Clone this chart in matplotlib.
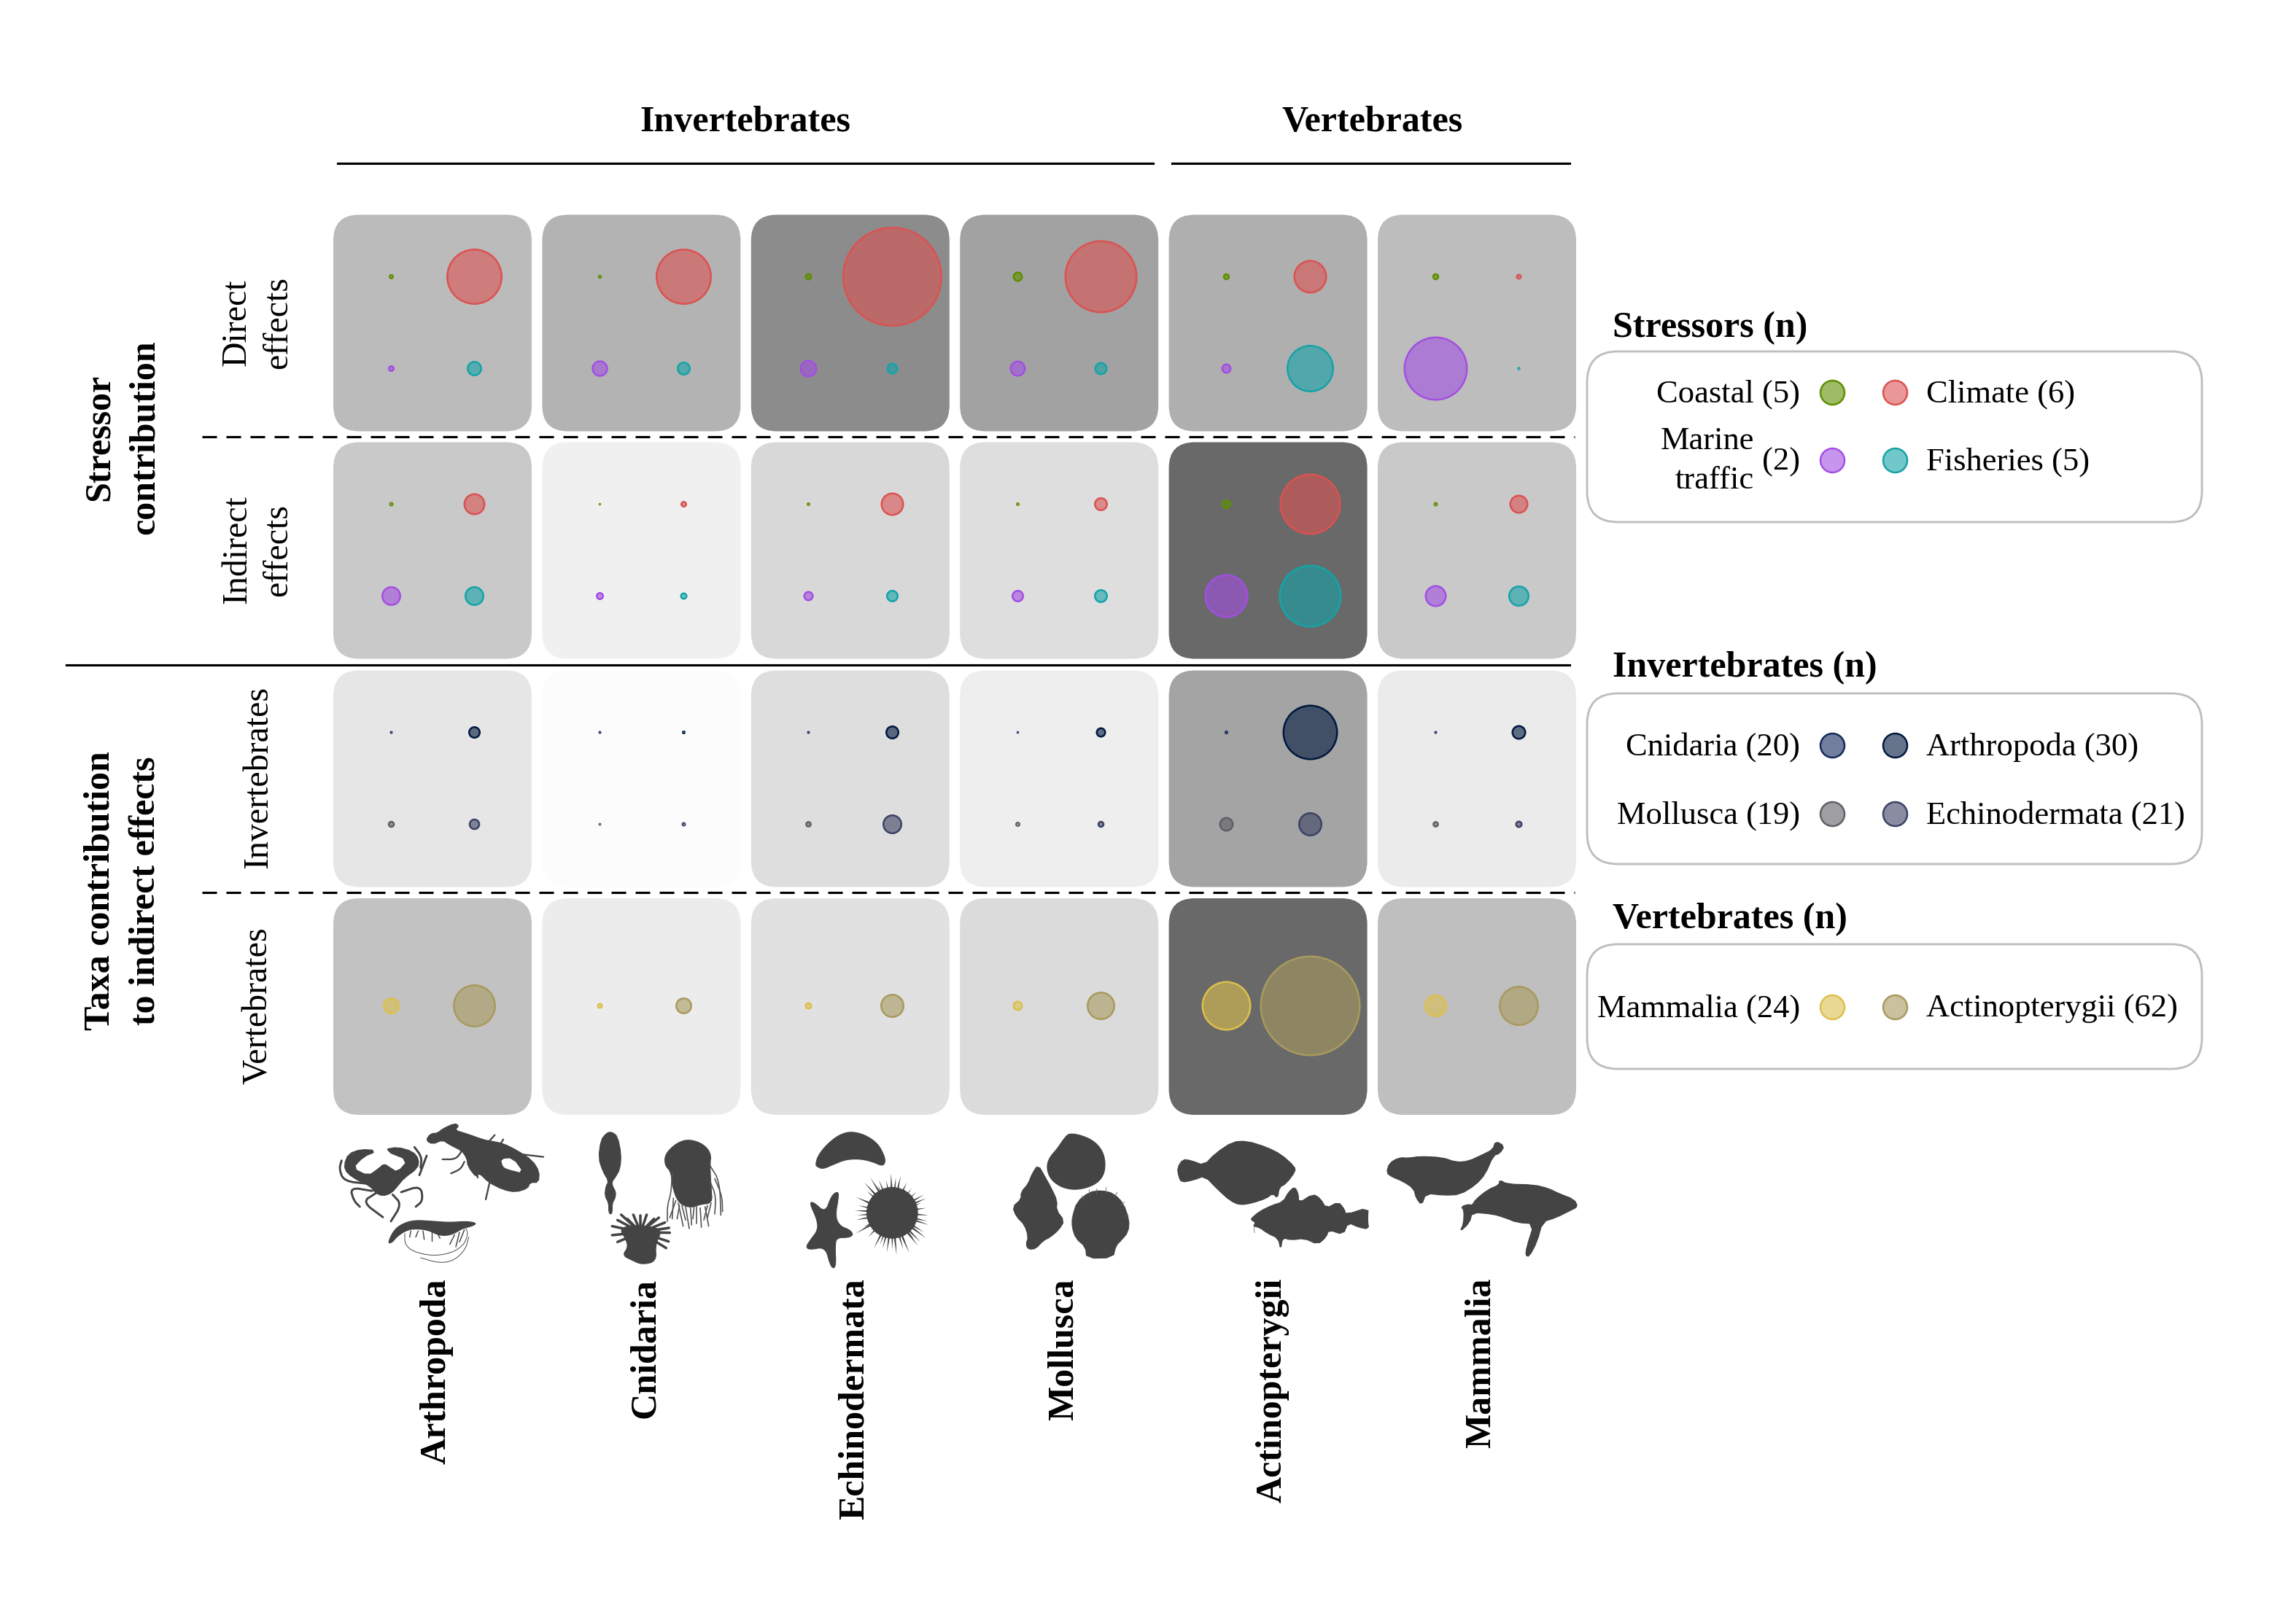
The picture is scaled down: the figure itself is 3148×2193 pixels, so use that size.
import numpy as np
import matplotlib
matplotlib.use('Agg')
import matplotlib.pyplot as plt
from matplotlib.patches import FancyBboxPatch, Polygon, Circle

plt.rcParams['font.family'] = ['Liberation Serif', 'DejaVu Serif']

W, H, DPI = 3148, 2193, 300

taxa = ['Arthropoda', 'Cnidaria', 'Echinodermata', 'Mollusca', 'Actinopterygii', 'Mammalia']

# tile grey levels, one list per row
shade_direct = [187, 179, 140, 162, 175, 189]
shade_indirect = [201, 240, 216, 222, 105, 201]
shade_invert = [230, 252, 222, 238, 164, 235]
shade_vert = [194, 236, 225, 219, 105, 191]

# bubble diameters (px)
direct_coastal = [7, 5.5, 10, 14, 9.5, 9.5]
direct_climate = [77, 77, 137, 100, 46, 8]
direct_marine = [9, 22.5, 24, 22, 14, 88]
direct_fisheries = [21, 19, 16, 18, 65, 4.5]

indirect_coastal = [6, 3.5, 5, 5, 13, 6]
indirect_climate = [30, 9, 32, 19, 84, 26]
indirect_marine = [27, 11, 14, 17, 60, 30]
indirect_fisheries = [27, 10, 17, 19, 86, 29]

invert_cnidaria = [4, 4, 4, 3.5, 5, 4]
invert_arthropoda = [17, 5, 19, 14, 76, 20]
invert_mollusca = [9.5, 4, 8.7, 7, 20, 8.7]
invert_echinodermata = [15.6, 6, 27, 9.5, 33, 10]

vert_mammalia = [23, 8, 10, 14, 68, 31]
vert_actinopterygii = [59, 23, 33, 39, 138, 55]

# colours
col_coastal = '#5E8F00'
col_climate = '#DB5252'
col_marine = '#A24FE2'
col_fisheries = '#15A3A8'
col_cnidaria = '#14295C'
col_arthropoda = '#00183E'
col_mollusca = '#5F5F66'
col_echinodermata = '#3C4265'
col_mammalia = '#DCC04D'
col_actinopterygii = '#A89A5E'

# legends
legend_stressors = [('Coastal (5)', col_coastal), ('Climate (6)', col_climate),
                    ('(2)', col_marine), ('Fisheries (5)', col_fisheries)]
legend_invert = [('Cnidaria (20)', col_cnidaria), ('Arthropoda (30)', col_arthropoda),
                 ('Mollusca (19)', col_mollusca), ('Echinodermata (21)', col_echinodermata)]
legend_vert = [('Mammalia (24)', col_mammalia), ('Actinopterygii (62)', col_actinopterygii)]

fig = plt.figure(figsize=(W / DPI, H / DPI), dpi=DPI)

PANEL_W, PANEL_H = 272, 297
panel_x = [457 + 286.4 * i for i in range(6)]
panel_y = [294.5, 606.5, 919.5, 1232]
EDGE = 0.6
edge_px = EDGE * DPI / 72


def bubble(ax, x, y, d, color):
    # tiny bubbles in the source are only a faint hairline ring
    lw = EDGE * min(1, d / 9)
    size = (max(d - lw * DPI / 72, 0.8) * 72 / DPI) ** 2
    ax.scatter([x], [y], s=size, facecolor=matplotlib.colors.to_rgba(color, 0.6),
               edgecolor=color, linewidth=lw, zorder=3)


rows = [
    (shade_direct, [(0.289, 0.714, direct_coastal, col_coastal), (0.71, 0.714, direct_climate, col_climate),
                    (0.289, 0.292, direct_marine, col_marine), (0.71, 0.292, direct_fisheries, col_fisheries)]),
    (shade_indirect, [(0.289, 0.714, indirect_coastal, col_coastal), (0.71, 0.714, indirect_climate, col_climate),
                      (0.289, 0.292, indirect_marine, col_marine), (0.71, 0.292, indirect_fisheries, col_fisheries)]),
    (shade_invert, [(0.289, 0.714, invert_cnidaria, col_cnidaria), (0.71, 0.714, invert_arthropoda, col_arthropoda),
                    (0.289, 0.292, invert_mollusca, col_mollusca), (0.71, 0.292, invert_echinodermata, col_echinodermata)]),
    (shade_vert, [(0.289, 0.505, vert_mammalia, col_mammalia), (0.71, 0.505, vert_actinopterygii, col_actinopterygii)]),
]

for r, (shades, series) in enumerate(rows):
    for c in range(6):
        ax = fig.add_axes([panel_x[c] / W, 1 - (panel_y[r] + PANEL_H) / H, PANEL_W / W, PANEL_H / H])
        ax.set_xlim(0, 1)
        ax.set_ylim(0, 1)
        ax.axis('off')
        g = shades[c] / 255
        ax.add_patch(FancyBboxPatch((0, 0), 1, 1, boxstyle='round,pad=0,rounding_size=0.13',
                                    mutation_aspect=0.916, facecolor=(g, g, g), edgecolor='none', clip_on=False))
        for x, y, vals, color in series:
            bubble(ax, x, y, vals[c], color)

# overlay in image pixels for rules, labels, legends and silhouettes
ov = fig.add_axes([0, 0, 1, 1], zorder=5)
ov.set_xlim(0, W)
ov.set_ylim(H, 0)
ov.axis('off')

LW = 0.75
ov.plot([463, 1581], [224, 224], color='black', lw=LW)
ov.plot([1607, 2152], [224, 224], color='black', lw=LW)
ov.plot([91, 2152], [912, 912], color='black', lw=LW)
dash = (0, (20 * 0.24 / LW, 13 * 0.24 / LW))
ov.plot([277, 2159], [599, 599], color='black', lw=LW, ls=dash)
ov.plot([277, 2159], [1224, 1224], color='black', lw=LW, ls=dash)


def txt(x, y, s, size=10.7, bold=False, rot=0, ha='center', va='center', ls=1.2):
    ov.text(x, y, s, fontsize=size, fontweight='bold' if bold else 'normal', rotation=rot,
            ha=ha, va=va, linespacing=ls, rotation_mode='anchor' if rot else 'default')


txt(1022, 168, 'Invertebrates', 12, True)
txt(1882, 168, 'Vertebrates', 12, True)

txt(137, 600, 'Stressor', 12, True, 90)
txt(199, 600, 'contribution', 12, True, 90)
txt(137, 1222, 'Taxa contribution', 12, True, 90)
txt(199, 1222, 'to indirect effects', 12, True, 90)
txt(325, 442, 'Direct', 11.5, False, 90)
txt(381, 442, 'effects', 11.5, False, 90)
txt(325, 754, 'Indirect', 11.5, False, 90)
txt(381, 754, 'effects', 11.5, False, 90)
txt(354, 1066, 'Invertebrates', 11.5, False, 90)
txt(354, 1379, 'Vertebrates', 11.5, False, 90)

for c, name in enumerate(taxa):
    txt(panel_x[c] + PANEL_W / 2 + 6, 1753, name, 12, True, 90, ha='right')

# legends
boxes = [(482, 716, 'Stressors (n)', 450, legend_stressors, [537.5, 631]),
         (951, 1185, 'Invertebrates (n)', 916, legend_invert, [1022, 1116]),
         (1295, 1466, 'Vertebrates (n)', 1261.5, legend_vert, [1381])]
for top, bottom, title, ty, items, ys in boxes:
    ov.add_patch(FancyBboxPatch((2176, top), 843, bottom - top, boxstyle='round,pad=0,rounding_size=42',
                                facecolor='white', edgecolor='#BEBEBE', lw=0.7))
    txt(2211, ty, title, 12, True, ha='left')
    for i, (label, color) in enumerate(items):
        y = ys[i // 2]
        left = i % 2 == 0
        ov.scatter([2512 if left else 2598], [y], s=(33 * 72 / DPI) ** 2,
                   facecolor=matplotlib.colors.to_rgba(color, 0.6), edgecolor=color, linewidth=EDGE, zorder=3)
        txt(2468 if left else 2641, y + 3, label, ha='right' if left else 'left')
txt(2405, 632, 'Marine\ntraffic', ha='right', ls=1.42)

# silhouettes, traced at 3x from crops that start at y=1540
SIL = '#444444'


def chaikin(xy, closed, n=2):
    for _ in range(n):
        nxt = np.roll(xy, -1, axis=0) if closed else xy[1:]
        cur = xy if closed else xy[:-1]
        q = cur * 0.75 + nxt * 0.25
        r = cur * 0.25 + nxt * 0.75
        mid = np.empty((len(cur) * 2, 2))
        mid[0::2] = q
        mid[1::2] = r
        xy = mid if closed else np.vstack([xy[:1], mid, xy[-1:]])
    return xy


def shape(x0, pts, color=SIL, smooth=2, edge=0.3):
    xy = chaikin(np.array(pts, dtype=float) / 3 + [x0, 1540], True, smooth)
    ov.add_patch(Polygon(xy, closed=True, facecolor=color, edgecolor=color, lw=edge, joinstyle='round'))


def stroke(x0, pts, lw=0.65, color=SIL):
    xy = chaikin(np.array(pts, dtype=float) / 3 + [x0, 1540], False)
    ov.plot(xy[:, 0], xy[:, 1], color=color, lw=lw, solid_capstyle='round', solid_joinstyle='round')


def spike(x0, base, tip, width=3.0):
    b, t = np.array(base, float) / 3 + [x0, 1540], np.array(tip, float) / 3 + [x0, 1540]
    n = np.array([-(t - b)[1], (t - b)[0]])
    n = n / np.hypot(*n) * width / 2
    ov.add_patch(Polygon([b + n, t, b - n], closed=True, facecolor=SIL, edgecolor='none'))


# crab
X = 460
shape(X, [(38, 175), (55, 130), (105, 112), (165, 116), (115, 135), (65, 187), (135, 222), (180, 190), (200, 172),
          (220, 185), (255, 208), (305, 152), (205, 112), (255, 103), (315, 120), (340, 150), (335, 185), (280, 225),
          (255, 255), (230, 285), (195, 298), (165, 285), (145, 258), (95, 235), (50, 205)], smooth=1, edge=0.8)
for leg in [[(165, 290), (110, 325), (195, 388)], [(235, 295), (272, 335), (228, 405)],
            [(270, 285), (350, 258), (360, 320), (330, 345)], [(150, 280), (60, 265), (75, 320), (100, 345)],
            [(130, 250), (35, 240), (15, 190), (25, 155)], [(345, 215), (375, 135)],
            [(325, 100), (355, 140), (350, 185)]]:
    stroke(X, leg, 0.7)
# lobster
shape(X, [(372, 72), (390, 45), (420, 42), (440, 25), (490, 2), (508, 12), (490, 30), (540, 45), (610, 70), (640, 75),
          (690, 85), (750, 115), (810, 155), (838, 200), (835, 245), (800, 245), (790, 270), (740, 285), (690, 275),
          (630, 245), (590, 205), (580, 225), (545, 180), (540, 145), (520, 115), (470, 90), (440, 70), (400, 88)], smooth=1)
shape(X, [(680, 148), (730, 145), (775, 208), (705, 190), (688, 180)], 'white', 1, 0)
for leg in [[(770, 130), (855, 140)], [(520, 115), (495, 150), (440, 150)], [(530, 160), (515, 190), (475, 208)],
            [(635, 240), (618, 315)], [(655, 50), (635, 72)], [(690, 68), (680, 85)], [(570, 170), (585, 225)]]:
    stroke(X, leg, 0.55)
# shrimp
shape(X, [(215, 497), (235, 450), (265, 420), (320, 400), (400, 405), (470, 410), (540, 405), (582, 413), (560, 425),
          (520, 435), (480, 460), (430, 465), (380, 440), (320, 435), (285, 445), (250, 470), (235, 490)])
for leg in [[(310, 445), (305, 470)], [(340, 445), (330, 470)], [(360, 445), (365, 480)], [(395, 445), (395, 485)],
            [(420, 455), (430, 475)], [(490, 460), (470, 500)], [(510, 450), (495, 510)], [(530, 440), (510, 490)]]:
    stroke(X, leg, 0.35)
stroke(X, [(285, 455), (285, 500), (320, 530), (400, 548), (480, 535), (530, 500), (545, 455), (535, 430)], 0.25, '#555555')
stroke(X, [(350, 555), (430, 578), (490, 565), (535, 520), (548, 470)], 0.25, '#555555')

# worm, jellyfish, anemone
X = 800
shape(X, [(115, 37), (140, 55), (155, 130), (150, 190), (130, 225), (118, 240), (118, 258), (133, 285), (130, 310),
          (118, 330), (118, 370), (110, 376), (104, 365), (104, 330), (88, 300), (92, 262), (104, 240), (80, 200),
          (62, 145), (72, 70), (95, 42)], smooth=1)
shape(X, [(335, 130), (380, 85), (430, 67), (490, 85), (525, 125), (520, 175), (525, 270), (530, 330), (480, 335),
          (440, 350), (390, 330), (365, 260), (360, 200), (335, 175)])
for t in [[(365, 205), (360, 290), (345, 340), (345, 405)], [(370, 310), (365, 395)], [(390, 330), (410, 425)],
          [(420, 345), (435, 435)], [(465, 340), (465, 415)], [(480, 350), (485, 430)], [(500, 345), (515, 425)],
          [(525, 330), (510, 390)], [(520, 175), (560, 240), (565, 380)], [(520, 240), (545, 300), (540, 375)],
          [(540, 230), (570, 300), (572, 365)], [(395, 340), (385, 395)], [(440, 350), (445, 420)],
          [(405, 340), (420, 400)], [(455, 345), (450, 395)], [(510, 340), (495, 400)], [(380, 320), (355, 390)]]:
    stroke(X, t, 0.4, '#555555')
shape(X, [(190, 420), (300, 430), (320, 450), (295, 500), (300, 570), (240, 583), (200, 565), (160, 545), (185, 510),
          (170, 470), (150, 440)])
for tip in [(118, 425), (118, 462), (140, 490), (140, 400), (155, 378), (205, 378), (235, 382), (260, 378), (310, 390),
            (335, 410), (352, 432), (355, 452), (350, 488), (340, 515), (180, 395), (290, 395)]:
    stroke(X, [(235, 450), tip], 0.85)

# sea cucumber, star, urchin
X = 1090
shape(X, [(85, 170), (95, 135), (130, 90), (180, 50), (230, 35), (290, 50), (340, 85), (365, 130), (372, 160),
          (360, 178), (320, 160), (270, 148), (210, 150), (160, 170), (115, 190), (90, 180)])
shape(X, [(60, 330), (75, 325), (125, 370), (150, 300), (175, 282), (180, 300), (165, 385), (185, 425), (225, 440),
          (240, 460), (220, 472), (170, 472), (165, 510), (168, 580), (160, 600), (145, 585), (125, 510), (60, 522),
          (45, 510), (65, 480), (95, 440), (90, 395)])
ov.add_patch(Circle((X + 400 / 3, 1540 + 370 / 3), 106 / 3, facecolor=SIL, edgecolor='none'))
for tip in [(395, 208), (435, 218), (460, 245), (500, 285), (540, 310), (540, 350), (550, 380), (550, 420), (540, 475),
            (515, 490), (470, 535), (445, 520), (418, 543), (378, 533), (325, 515), (250, 455), (250, 400), (245, 360),
            (250, 305), (285, 245), (310, 225), (345, 235), (375, 235), (480, 270), (520, 330), (545, 405), (490, 480),
            (350, 500), (280, 430), (260, 340), (295, 280), (415, 225), (530, 450), (400, 520), (300, 470), (255, 380),
            (450, 262), (530, 295), (505, 505), (340, 258), (275, 395), (360, 518)]:
    spike(X, (400 + (tip[0] - 400) * 0.55, 370 + (tip[1] - 370) * 0.55), tip)

# shells
X = 1350
shape(X, [(330, 60), (350, 43), (400, 52), (450, 75), (485, 115), (497, 165), (490, 215), (460, 250), (410, 270),
          (360, 275), (310, 262), (270, 230), (255, 185), (265, 145), (300, 105)])
shape(X, [(220, 172), (250, 225), (275, 270), (298, 320), (295, 360), (328, 403), (305, 440), (270, 470), (240, 485),
          (210, 518), (180, 520), (170, 500), (180, 470), (165, 420), (130, 385), (115, 345), (150, 315), (150, 285),
          (180, 250), (195, 210)], smooth=1)
shape(X, [(360, 390), (380, 325), (430, 285), (480, 278), (530, 290), (570, 330), (595, 400), (590, 450), (560, 485),
          (540, 505), (528, 555), (420, 557), (415, 510), (375, 475), (360, 430)], smooth=1)
for a, b in [((430, 275), (432, 300)), ((460, 270), (460, 295)), ((500, 265), (498, 290)), ((545, 285), (535, 305)),
             ((400, 300), (410, 320)), ((575, 325), (560, 340)), ((590, 380), (575, 385))]:
    stroke(X, [a, b], 0.2, '#666666')

# flatfish, cod
X = 1610
shape(X, [(13, 185), (35, 150), (70, 155), (122, 175), (170, 125), (240, 78), (300, 75), (380, 100), (440, 130),
          (495, 180), (498, 200), (460, 250), (432, 265), (425, 310), (405, 290), (380, 310), (320, 330), (270, 338),
          (230, 320), (180, 275), (125, 218), (80, 235), (30, 245), (18, 220)], smooth=1)
shape(X, [(317, 393), (350, 365), (400, 340), (448, 325), (470, 285), (495, 263), (510, 290), (512, 330), (570, 293),
          (600, 310), (625, 352), (675, 325), (700, 355), (705, 378), (798, 348), (795, 400), (800, 437), (760, 430),
          (715, 410), (695, 460), (635, 440), (625, 470), (590, 500), (535, 475), (480, 482), (445, 472), (438, 522),
          (428, 475), (385, 455), (350, 430), (325, 425), (335, 410), (318, 400)], smooth=1)
stroke(X, [(327, 425), (330, 452)], 0.2, '#777777')

# whales
X = 1890
shape(X, [(33, 205), (45, 165), (85, 143), (125, 145), (170, 138), (260, 142), (320, 162), (370, 158), (430, 130),
          (470, 110), (482, 75), (518, 95), (500, 125), (472, 135), (440, 210), (400, 255), (335, 295), (270, 298),
          (195, 290), (178, 338), (155, 310), (145, 270), (100, 240), (55, 222)], smooth=1)
shape(X, [(340, 345), (370, 335), (385, 340), (400, 315), (450, 275), (497, 255), (498, 235), (530, 252), (640, 255),
          (700, 270), (740, 290), (805, 315), (820, 345), (790, 360), (730, 390), (675, 407), (652, 490), (620, 550),
          (605, 545), (610, 510), (640, 415), (570, 410), (520, 390), (470, 375), (385, 368), (375, 410), (335, 448),
          (350, 415), (352, 360)], smooth=1)

fig.savefig('out.png', dpi=DPI)
